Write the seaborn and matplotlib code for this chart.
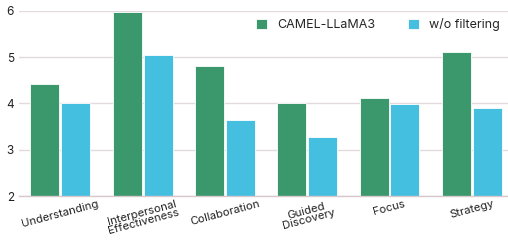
import numpy as np
import pandas as pd
import matplotlib
matplotlib.use("Agg")
import matplotlib.pyplot as plt
import seaborn as sns

sns.set_style("white")
plt.rcParams['font.family'] = ['Inter', 'DejaVu Sans']

# Chart data
categories = ['Understanding', 'Interpersonal\nEffectiveness', 'Collaboration',
              'Guided\nDiscovery', 'Focus', 'Strategy']
camel_scores = [4.42, 5.97, 4.81, 4.00, 4.11, 5.10]
nofilter_scores = [4.00, 5.04, 3.64, 3.28, 3.98, 3.91]
series_names = ['CAMEL-LLaMA3', 'w/o filtering']

df = pd.DataFrame({
    'Category': categories * 2,
    'Score': camel_scores + nofilter_scores,
    'Model': [series_names[0]] * len(categories) + [series_names[1]] * len(categories),
})

fig = plt.figure(figsize=(5.08, 2.4), dpi=100)
ax = fig.add_axes([0.037, 0.183, 0.963, 0.772])

sns.barplot(data=df, x='Category', y='Score', hue='Model', ax=ax,
            palette=['#3b976c', '#45bfe0'], saturation=1, width=0.75, gap=0.06,
            edgecolor='white', linewidth=0.6)

ax.set_ylim(2, 6)
ax.set_xlim(-0.505, 5.44)
ax.set_yticks([2, 3, 4, 5, 6])
ax.yaxis.grid(True, color='#e2dadd', linewidth=1)
ax.set_axisbelow(True)
for s in ['top', 'right', 'left']:
    ax.spines[s].set_visible(False)
ax.spines['bottom'].set_color('#d8c8cc')
ax.spines['bottom'].set_linewidth(1)
ax.tick_params(axis='both', length=0, labelsize=8.5, colors='#222222')
ax.tick_params(axis='x', pad=2, labelsize=8.2)
plt.setp(ax.get_xticklabels(), rotation=15, ha='center', linespacing=0.85)
ax.set_xlabel('')
ax.set_ylabel('')

ax.legend(loc='upper right', bbox_to_anchor=(1.006, 1.02), ncol=2, frameon=False,
          fontsize=9, handlelength=0.9, handleheight=0.9, columnspacing=2.6,
          handletextpad=0.8)

fig.savefig('out.png', dpi=100)
